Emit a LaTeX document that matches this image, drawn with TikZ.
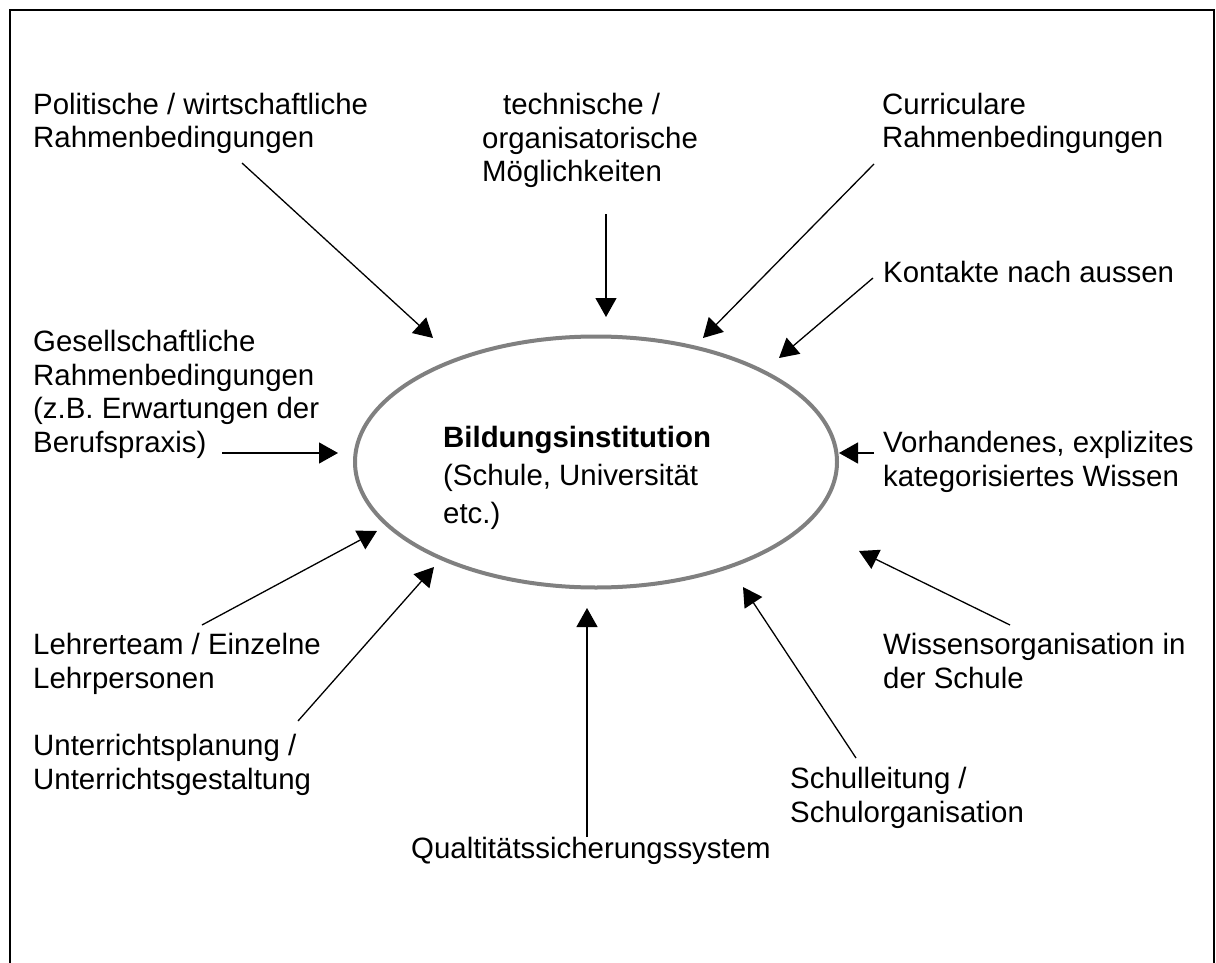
\documentclass[tikz,border=0pt]{standalone}
\usepackage{fontspec}
\setmainfont{Liberation Sans}
\usetikzlibrary{arrows.meta,shapes.geometric}
\tikzset{
  lbl/.style={anchor=base west, inner sep=0pt, align=left,
    font=\fontsize{29.4}{33.5}\selectfont},
  conn/.style={line width=1.3pt, -{Triangle[length=19pt,width=21pt]}},
  ellshape/.style={draw=ellgray, line width=4pt, ellipse, inner sep=0pt,
    minimum width=482pt, minimum height=251pt},
  frame/.style={line width=2pt, draw=black}
}
\definecolor{ellgray}{RGB}{128,128,128}
\begin{document}
\begin{tikzpicture}[x=1pt,y=-1pt]
\useasboundingbox (0,0) rectangle (1216,963);
\clip (0,0) rectangle (1216,963);
\draw[frame] (10,980) -- (10,10) -- (1214,10) -- (1214,980);

% central ellipse
\node[ellshape] (ell) at (596,462) {};
% (anchor base = baseline of the last line)
\node[anchor=base west, inner sep=0pt, align=left,
  font=\fontsize{29.4}{38}\selectfont] (elltext) at (443,523)
  {\textbf{Bildungsinstitution}\\(Schule, Universität\\etc.)};

% labels
\node[lbl] (pol) at (33,148) {Politische / wirtschaftliche\\Rahmenbedingungen};
\node[lbl] (tech) at (482,182) {\hspace*{21pt}technische /\\organisatorische\\Möglichkeiten};
\node[lbl] (cur) at (882,148) {Curriculare\\Rahmenbedingungen};
\node[lbl] (kon) at (883,282) {Kontakte nach aussen};
\node[lbl] (vor) at (883,486) {Vorhandenes, explizites\\kategorisiertes Wissen};
\node[lbl] (wis) at (883,688) {Wissensorganisation in\\der Schule};
\node[lbl] (sch) at (790,822) {Schulleitung /\\Schulorganisation};
\node[lbl] (qua) at (411,858) {Qualtitätssicherungssystem};
\node[lbl] (unt) at (33,789) {Unterrichtsplanung /\\Unterrichtsgestaltung};
\node[lbl] (leh) at (33,688) {Lehrerteam / Einzelne\\Lehrpersonen};
\node[lbl] (ges) at (33,452) {Gesellschaftliche\\Rahmenbedingungen\\(z.B. Erwartungen der\\Berufspraxis)};

% connector end points
\coordinate (polS) at (242,163);  \coordinate (polE) at (433,338);
\coordinate (techS) at (606,214); \coordinate (techE) at (606,317);
\coordinate (curS) at (874,164);  \coordinate (curE) at (703,338);
\coordinate (konS) at (873,278);  \coordinate (konE) at (779,358);
\coordinate (vorS) at (874,453);  \coordinate (vorE) at (839,453);
\coordinate (wisS) at (1010,625); \coordinate (wisE) at (859,551);
\coordinate (schS) at (856,758);  \coordinate (schE) at (743,587);
\coordinate (quaS) at (587,837);  \coordinate (quaE) at (587,608);
\coordinate (untS) at (298,721);  \coordinate (untE) at (434,567);
\coordinate (lehS) at (202,625);  \coordinate (lehE) at (377,531);
\coordinate (gesS) at (222,453);  \coordinate (gesE) at (338,453);

\draw[conn] (polS) -- (polE);
\draw[conn] (techS) -- (techE);
\draw[conn] (curS) -- (curE);
\draw[conn] (konS) -- (konE);
\draw[conn] (vorS) -- (vorE);
\draw[conn] (wisS) -- (wisE);
\draw[conn] (schS) -- (schE);
\draw[conn] (quaS) -- (quaE);
\draw[conn] (untS) -- (untE);
\draw[conn] (lehS) -- (lehE);
\draw[conn] (gesS) -- (gesE);
\end{tikzpicture}
\end{document}
